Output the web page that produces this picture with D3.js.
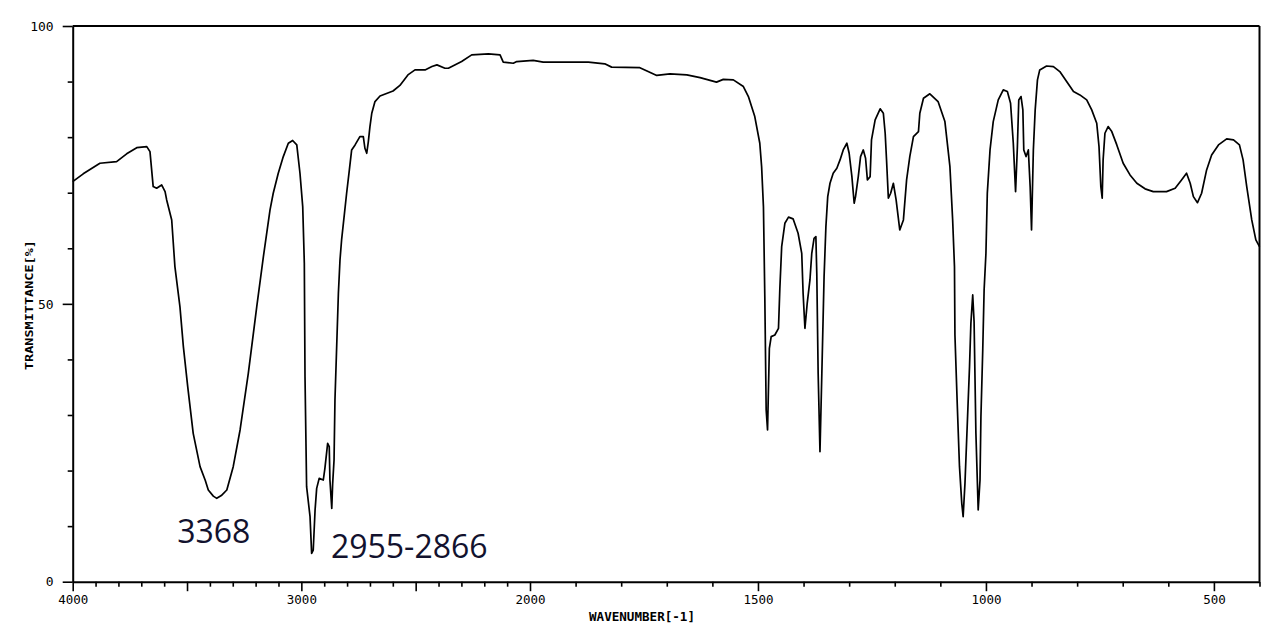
<!DOCTYPE html>
<html>
<head>
<meta charset="utf-8">
<script src="https://cdn.jsdelivr.net/npm/d3@7"></script>
<style>
  html, body { margin: 0; padding: 0; background: #fff; overflow: hidden; }
  svg { display: block; }
</style>
</head>
<body>
<svg id="chart" width="1278" height="624"></svg>
<script>
// ---- data ----
const wavenumbers = [4000,3954,3881,3808,3764,3720,3676,3662,3648,3633,3611,3596,3589,3567,3553,3531,3516,3497,3473,3443,3420,3407,3385,3370,3350,3326,3298,3268,3232,3195,3166,3137,3123,3101,3079,3057,3038,3020,3006,2994,2987,2984,2977,2962,2955,2948,2940,2933,2922,2904,2897,2885,2878,2875,2867,2863,2857,2853,2838,2831,2824,2813,2802,2790,2780,2765,2744,2729,2722,2714,2707,2700,2692,2678,2656,2599,2569,2534,2503,2459,2429,2407,2372,2357,2299,2255,2182,2131,2117,2073,2058,1993,1971,1872,1836,1821,1759,1741,1722,1693,1656,1627,1591,1576,1554,1532,1521,1507,1496,1492,1488,1485,1482,1479,1475,1471,1463,1455,1452,1448,1441,1433,1423,1412,1404,1401,1397,1392,1386,1382,1377,1373,1371,1368,1364,1360,1355,1351,1347,1342,1335,1327,1320,1313,1305,1300,1294,1289,1286,1280,1275,1269,1264,1260,1254,1251,1243,1232,1225,1221,1218,1214,1209,1203,1197,1189,1181,1174,1167,1159,1148,1145,1137,1123,1105,1090,1079,1073,1069,1068,1063,1058,1053,1050,1046,1041,1036,1033,1029,1026,1022,1017,1013,1011,1007,1004,1000,997,991,984,973,962,953,946,940,935,931,928,923,919,917,912,907,903,900,896,892,887,882,867,852,838,823,808,794,779,768,757,752,748,745,743,739,732,724,713,699,684,669,651,633,604,585,571,560,552,545,536,527,516,505,490,472,457,444,436,428,417,408,400];
const transmittance = [72.0,73.4,75.3,75.6,77.0,78.1,78.3,77.4,71.1,70.8,71.4,70.2,68.7,65.1,56.7,49.5,42.3,35.1,26.7,20.7,18.2,16.5,15.4,15.0,15.5,16.5,20.7,27.3,37.5,49.5,58.5,66.9,69.9,73.5,76.5,78.9,79.4,78.6,73.5,67.5,57.3,36.9,17.1,11.7,5.1,5.7,12.9,16.8,18.6,18.3,20.4,24.9,24.3,18.3,13.2,17.7,21.9,32.7,51.9,57.9,61.5,65.7,69.9,74.1,77.7,78.6,80.1,80.1,78.0,77.1,79.2,81.9,84.3,86.4,87.4,88.3,89.3,91.2,92.1,92.1,92.7,93.0,92.4,92.4,93.6,94.8,95.0,94.8,93.5,93.3,93.6,93.8,93.5,93.5,93.2,92.6,92.5,91.8,91.1,91.4,91.2,90.7,89.9,90.4,90.3,89.1,87.3,83.7,78.9,74.7,67.5,51.3,30.9,27.3,42.0,44.1,44.4,45.6,52.8,60.3,64.5,65.6,65.3,62.7,59.1,51.9,45.6,50.1,54.3,59.1,61.8,62.1,55.5,37.5,23.4,37.2,54.9,63.9,69.3,71.7,73.5,74.4,75.9,77.7,78.9,77.1,72.9,68.1,69.3,72.9,76.5,77.7,76.2,72.3,72.9,79.5,83.1,85.1,84.3,80.7,75.9,69.0,69.9,71.7,68.7,63.3,65.1,72.3,76.5,80.1,81.0,84.3,87.0,87.8,86.4,82.8,74.7,65.1,56.7,44.4,32.1,20.7,14.1,11.7,17.7,28.2,38.7,46.5,51.6,46.8,26.7,12.9,18.3,29.7,41.7,52.5,59.1,69.9,77.7,82.8,86.7,88.5,88.2,86.1,78.9,70.2,78.3,86.7,87.3,84.9,77.7,76.5,77.7,71.1,63.3,77.7,84.9,90.3,92.1,92.8,92.7,91.8,90.0,88.2,87.6,86.7,84.9,82.5,78.3,71.1,69.0,75.9,80.7,81.9,81.0,78.6,75.3,73.2,71.7,70.7,70.2,70.2,70.8,72.3,73.5,71.7,69.3,68.2,69.9,74.1,76.8,78.6,79.7,79.5,78.6,75.9,71.1,65.1,61.5,60.3];

const xTickLabels = [4000, 3000, 2000, 1500, 1000, 500];
const yTickLabels = [0, 50, 100];
const xTitle = "WAVENUMBER[-1]";
const yTitle = "TRANSMITTANCE[%]";
const annTexts = ["3368", "2955-2866"];
const annWavenumbers = [3383, 2528];
const annTransmittance = [7.0, 4.3];

// ---- scales ----
const x = d3.scaleLinear().domain([4000, 2000, 400]).range([72.7, 530, 1259.5]);
const y = d3.scaleLinear().domain([0, 100]).range([581.7, 26]);

const svg = d3.select("#chart");
const data = wavenumbers.map((w, i) => ({ w, t: transmittance[i] }));

const tickFont = "'DejaVu Sans Mono', monospace";

// ---- x axis ----
const xTicks = d3.range(4000, 399, -100);
const xAxis = d3.axisBottom(x)
  .tickValues(xTicks)
  .tickSizeInner(5)
  .tickSizeOuter(0)
  .tickFormat(d => xTickLabels.includes(d) ? String(d) : "");
const gx = svg.append("g").attr("transform", `translate(0,${y(0)})`).call(xAxis);
gx.select(".domain").attr("stroke", "#000").attr("stroke-width", 2);
gx.selectAll(".tick line").attr("stroke", "#000").attr("stroke-width", 1.6)
  .attr("y2", d => d % 500 === 0 ? 9.5 : 5);
gx.selectAll(".tick text")
  .attr("y", 13).attr("dy", "0.71em")
  .style("font-family", tickFont).style("font-size", "12.5px").attr("fill", "#000");

// ---- y axis ----
const yTicks = d3.range(0, 101, 10);
const yAxis = d3.axisLeft(y)
  .tickValues(yTicks)
  .tickSizeInner(5)
  .tickSizeOuter(0)
  .tickFormat(d => yTickLabels.includes(d) ? String(d) : "");
const gy = svg.append("g").attr("transform", `translate(${x(4000)},0)`).call(yAxis);
gy.select(".domain").attr("stroke", "#000").attr("stroke-width", 2);
gy.selectAll(".tick line").attr("stroke", "#000").attr("stroke-width", 1.6)
  .attr("x2", d => d % 50 === 0 ? -10 : -5);
gy.selectAll(".tick text")
  .attr("x", -19)
  .style("font-family", tickFont).style("font-size", "13px").attr("fill", "#000");

// ---- frame (top and right) ----
svg.append("line")
  .attr("x1", x(4000)).attr("x2", x(400))
  .attr("y1", y(100)).attr("y2", y(100))
  .attr("stroke", "#000").attr("stroke-width", 2);
svg.append("line")
  .attr("x1", x(400)).attr("x2", x(400))
  .attr("y1", y(100)).attr("y2", y(0))
  .attr("stroke", "#000").attr("stroke-width", 2);

// ---- axis titles ----
svg.append("text")
  .attr("x", 589).attr("y", 621)
  .attr("textLength", 106).attr("lengthAdjust", "spacingAndGlyphs")
  .style("font-family", tickFont).style("font-size", "13px").style("font-weight", "bold")
  .attr("fill", "#000")
  .text(xTitle);

svg.append("text")
  .attr("transform", "translate(33,305) rotate(-90)")
  .attr("text-anchor", "middle")
  .attr("textLength", 130).attr("lengthAdjust", "spacingAndGlyphs")
  .style("font-family", tickFont).style("font-size", "11px").style("font-weight", "bold")
  .attr("fill", "#000")
  .text(yTitle);

// ---- spectrum ----
const line = d3.line().x(d => x(d.w)).y(d => y(d.t));
svg.append("path")
  .datum(data)
  .attr("d", line)
  .attr("fill", "none")
  .attr("stroke", "#000")
  .attr("stroke-width", 1.7)
  .attr("stroke-linejoin", "round");

// ---- annotations ----
svg.selectAll("text.ann")
  .data(annTexts)
  .enter().append("text")
  .attr("class", "ann")
  .attr("x", (d, i) => x(annWavenumbers[i]))
  .attr("y", (d, i) => y(annTransmittance[i]))
  .attr("text-anchor", "middle")
  .style("font-family", "'Open Sans', sans-serif")
  .style("font-size", "32px")
  .attr("fill", "#12122e")
  .text(d => d);
</script>
</body>
</html>
